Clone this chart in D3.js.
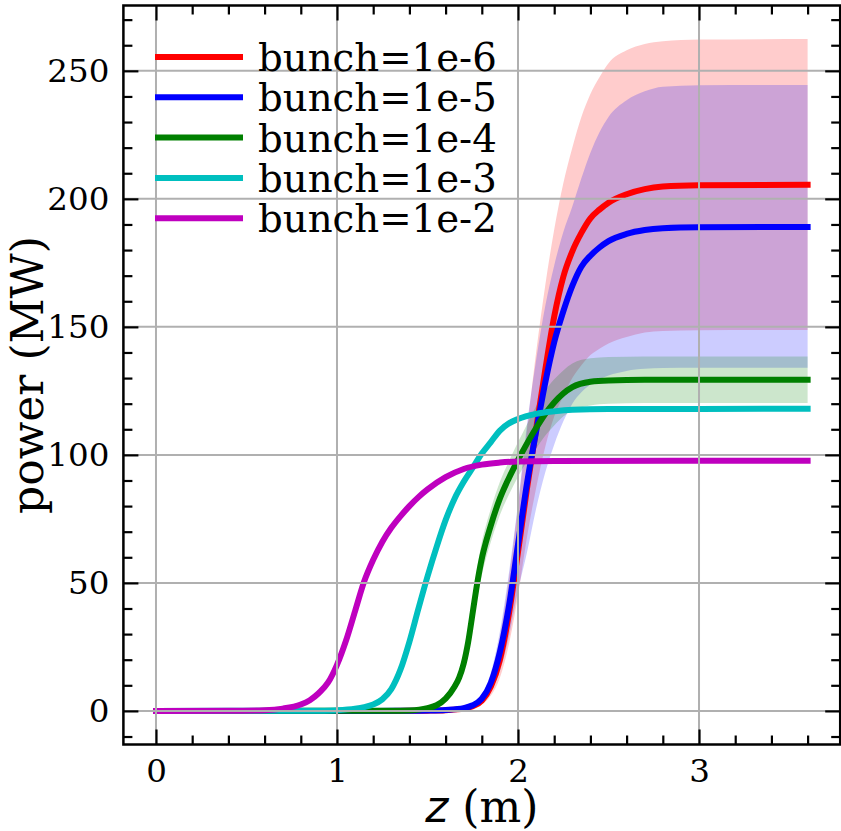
<!DOCTYPE html>
<html><head><meta charset="utf-8">
<script src="https://cdn.jsdelivr.net/npm/d3@7"></script>
<style>body{margin:0;background:#fff}</style>
</head><body>
<svg id="c" width="841" height="831"></svg>
<script>
// ---- data ----
const labels = ["bunch=1e-6","bunch=1e-5","bunch=1e-4","bunch=1e-3","bunch=1e-2"];
const colors = ["#ff0000","#0000ff","#008000","#00bfbf","#bf00bf"];

const zRB   = [0,1.2,1.4,1.5,1.6,1.7,1.75,1.8,1.85,1.9,1.95,2.0,2.05,2.1,2.15,2.2,2.25,2.3,2.35,2.4,2.45,2.5,2.6,2.7,2.8,3.0,3.6];
const pRed  = [0,0,0.03,0.1,0.3,0.9,1.8,4,9.5,20,38,62,87,110,133,154,169.5,179.5,186.7,192.4,195.8,198.5,201.8,203.8,204.8,205.3,205.5];
const loRed = [0,0,0.02,0.07,0.2,0.6,1.2,2.5,6,13,26,45,68,87,103,115,123,130,135,139,141.5,143.5,146,147.8,148.4,148.7,148.8];
const hiRed = [0,0,0.04,0.13,0.4,1.2,2.5,6,14,29,52,80,110,140,166,188,206,220,232,241,247.5,253,258,260.5,261.6,262.2,262.4];
const pBlue = [0,0,0.05,0.15,0.4,1.1,2.2,4.8,11,23,41,65,89,109,128,144,156,166,173.5,177.8,181,183.5,186.3,187.8,188.5,188.9,189];
const loBlue= [0,0,0.03,0.1,0.28,0.7,1.5,3.2,7.5,15.5,29,47,62,79,93,104,113,120,124.5,127.5,129.5,131,132.8,133.6,133.9,134,134];
const hiBlue= [0,0,0.07,0.2,0.55,1.5,3,6.5,15,31,54,81,112,137,158,174,187,197,208,218,226,232,238.5,242,243.8,244.4,244.5];

const zGreen = [0,1.3,1.4,1.5,1.55,1.6,1.65,1.675,1.7,1.725,1.75,1.775,1.8,1.825,1.85,1.9,1.95,2.0,2.05,2.1,2.15,2.2,2.25,2.3,2.4,2.5,2.7,3.6];
const pGreen = [0,0.05,0.2,1.1,2.2,4.8,9.5,13,18.5,27,38.5,50,59.5,66.5,72.5,83,91,98,104.5,110.5,116,120.5,124,126.5,128.6,129.1,129.3,129.3];
const loGreen= [0,0.04,0.18,0.95,1.9,4.1,8,11,15.5,23,33.5,44,53,60,66,76.5,84.5,91.5,97.5,102.5,107.5,111.5,115,117.3,119.3,120,120.3,120.3];
const hiGreen= [0,0.06,0.22,1.25,2.5,5.6,11,15,22,31.5,44,56,66,73,79,89.5,97.5,105,112,119,125,129.5,133,135.7,137.7,138.2,138.4,138.4];

const zCyan = [0,0.8,0.9,1.0,1.1,1.15,1.2,1.25,1.3,1.35,1.4,1.45,1.5,1.55,1.6,1.65,1.7,1.75,1.8,1.85,1.9,1.95,2.0,2.1,2.2,2.3,2.5,3.6];
const pCyan = [0,0.05,0.1,0.3,0.9,1.5,2.5,4.5,8.5,16,27,40,52.5,64,74.5,83,89.5,95,100.5,105,109.5,112.3,114,116,117,117.6,117.9,118];

const zMag = [0,0.4,0.6,0.7,0.8,0.85,0.9,0.95,1.0,1.05,1.1,1.15,1.2,1.25,1.3,1.35,1.4,1.45,1.5,1.6,1.7,1.8,1.9,2.0,2.2,3.6];
const pMag = [0,0.05,0.3,0.9,2.5,4.2,7,11,18,27.5,39,50.5,59,66,71.5,76,80,83.5,86.5,91.3,94.5,96.2,97,97.4,97.6,97.7];

const xMajor = [0,1,2,3];
const yMajor = [0,50,100,150,200,250];

// ---- layout ----
const svg = d3.select("#c");
const L=123.4, R=840.2, T=5.5, B=744.5;
const x = d3.scaleLinear().domain([-0.18,3.78]).range([L,R]);
const y = d3.scaleLinear().domain([-13.12,275.52]).range([B,T]);

svg.append("defs").append("clipPath").attr("id","clip")
  .append("rect").attr("x",L).attr("y",T).attr("width",R-L).attr("height",B-T);

const series = [
  {z:zRB, p:pRed, lo:loRed, hi:hiRed},
  {z:zRB, p:pBlue, lo:loBlue, hi:hiBlue},
  {z:zGreen, p:pGreen, lo:loGreen, hi:hiGreen},
  {z:zCyan, p:pCyan},
  {z:zMag, p:pMag}
];

const plot = svg.append("g").attr("clip-path","url(#clip)");
const area = d3.area().x(d=>x(d.z)).y0(d=>y(d.lo)).y1(d=>y(d.hi)).curve(d3.curveMonotoneX);
const line = d3.line().x(d=>x(d.z)).y(d=>y(d.p)).curve(d3.curveMonotoneX);

series.forEach((s,i)=>{
  if(!s.lo) return;
  const pts = s.z.map((z,k)=>({z, lo:s.lo[k], hi:s.hi[k]}));
  plot.append("path").attr("d",area(pts)).attr("fill",colors[i]).attr("fill-opacity",0.2);
});

// grid
const grid = svg.append("g").attr("stroke","#b0b0b0").attr("stroke-width",2);
xMajor.forEach(v=>grid.append("line").attr("x1",x(v)).attr("x2",x(v)).attr("y1",T).attr("y2",B));
yMajor.forEach(v=>grid.append("line").attr("y1",y(v)).attr("y2",y(v)).attr("x1",L).attr("x2",R));

series.forEach((s,i)=>{
  const pts = s.z.map((z,k)=>({z, p:s.p[k]}));
  plot.append("path").attr("d",line(pts)).attr("fill","none").attr("stroke",colors[i])
    .attr("stroke-width",6).attr("stroke-linecap","square").attr("stroke-linejoin","round");
});

// axes (inward ticks on all sides)
const font = "DejaVu Serif";
svg.append("g").attr("transform",`translate(0,${B})`)
  .call(d3.axisBottom(x).tickValues(xMajor).tickSize(-15).tickPadding(14).tickFormat(d3.format("d")));
svg.append("g").attr("transform",`translate(0,${T})`)
  .call(d3.axisTop(x).tickValues(xMajor).tickSize(-15).tickFormat(""));
svg.append("g").attr("transform",`translate(${L},0)`)
  .call(d3.axisLeft(y).tickValues(yMajor).tickSize(-15).tickPadding(14).tickFormat(d3.format("d")));
svg.append("g").attr("transform",`translate(${R},0)`)
  .call(d3.axisRight(y).tickValues(yMajor).tickSize(-15).tickFormat(""));
const xMinor = d3.range(1,19).map(k=>k*0.2).filter(v=>Math.abs(v-Math.round(v))>1e-6);
const yMinor = d3.range(-1,28).map(k=>k*10).filter(v=>v%50!==0);
svg.append("g").attr("transform",`translate(0,${B})`).call(d3.axisBottom(x).tickValues(xMinor).tickSize(-9).tickFormat(""));
svg.append("g").attr("transform",`translate(0,${T})`).call(d3.axisTop(x).tickValues(xMinor).tickSize(-9).tickFormat(""));
svg.append("g").attr("transform",`translate(${L},0)`).call(d3.axisLeft(y).tickValues(yMinor).tickSize(-9).tickFormat(""));
svg.append("g").attr("transform",`translate(${R},0)`).call(d3.axisRight(y).tickValues(yMinor).tickSize(-9).tickFormat(""));

svg.selectAll(".domain").remove();
svg.selectAll(".tick line").attr("stroke","#000").attr("stroke-width",2.2);
svg.selectAll(".tick text").attr("font-family",font).attr("font-size",32.5).attr("fill","#000");

// spines
svg.append("rect").attr("x",L).attr("y",T).attr("width",R-L).attr("height",B-T)
  .attr("fill","none").attr("stroke","#000").attr("stroke-width",2.5);

// axis labels
const xl = svg.append("text").attr("x",(L+R)/2).attr("y",822).attr("text-anchor","middle")
  .attr("font-family",font).attr("font-size",44).attr("fill","#000");
xl.append("tspan").attr("font-family","DejaVu Sans").attr("font-style","italic").text("z");
xl.append("tspan").text(" (m)");
svg.append("text").attr("transform",`translate(43,${(T+B)/2}) rotate(-90)`).attr("text-anchor","middle")
  .attr("font-family",font).attr("font-size",44).attr("fill","#000").text("power (MW)");

// legend
const leg = svg.append("g");
labels.forEach((t,i)=>{
  const yy = 57 + i*40.3;
  leg.append("line").attr("x1",155).attr("x2",243).attr("y1",yy).attr("y2",yy)
    .attr("stroke",colors[i]).attr("stroke-width",6);
  leg.append("text").attr("x",258).attr("y",yy+14).attr("font-family",font).attr("font-size",38.7)
    .attr("fill","#000").text(t);
});
</script>
</body></html>
